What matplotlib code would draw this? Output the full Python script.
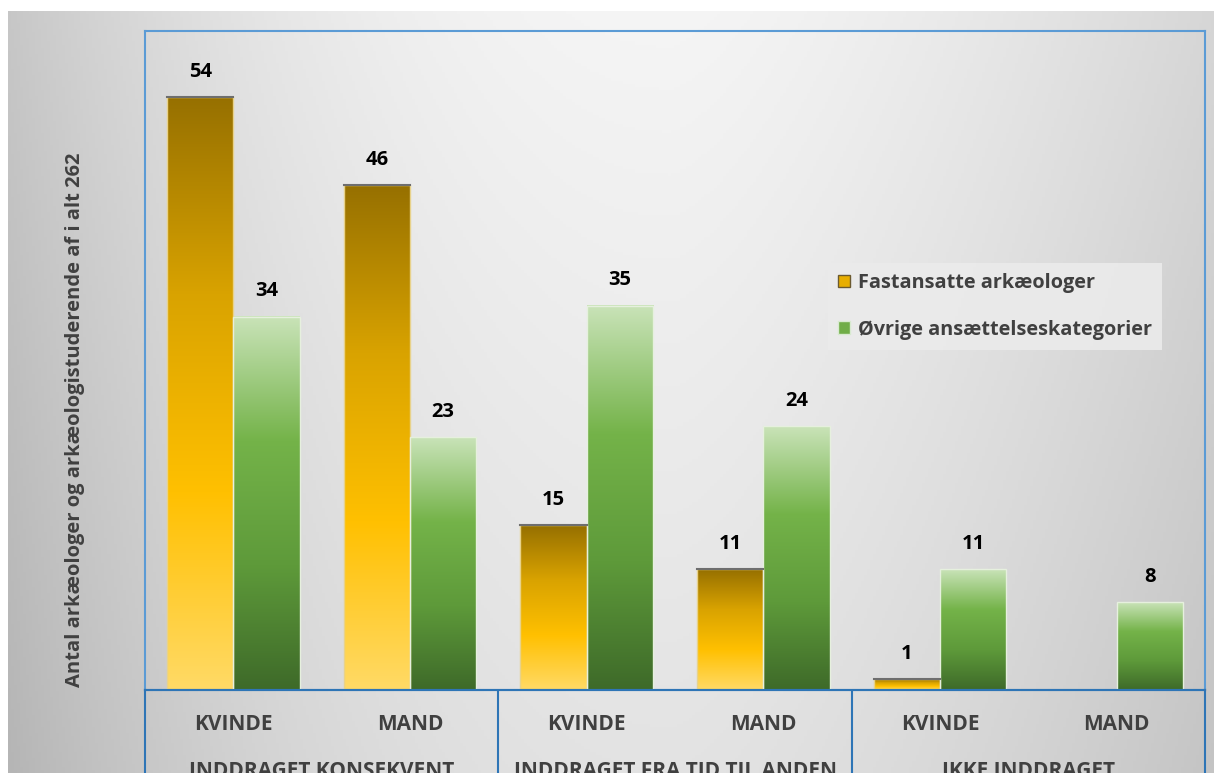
import numpy as np
import matplotlib.pyplot as plt
from matplotlib.colors import LinearSegmentedColormap
from matplotlib.patches import Patch

plt.rcParams['font.family'] = ['Open Sans', 'DejaVu Sans']

# data
groups = ['INDDRAGET KONSEKVENT', 'INDDRAGET FRA TID TIL ANDEN', 'IKKE INDDRAGET']
genders = ['KVINDE', 'MAND', 'KVINDE', 'MAND', 'KVINDE', 'MAND']
fast = [54, 46, 15, 11, 1, 0]
oevrige = [34, 23, 35, 24, 11, 8]
series_names = ['Fastansatte arkæologer', 'Øvrige ansættelseskategorier']
ylabel = 'Antal arkæologer og arkæologistuderende af i alt 262'

W, H = 1214, 773
fig = plt.figure(figsize=(W / 100, H / 100), dpi=100)

# grey gradient background
bg = fig.add_axes([8 / W, 0, 1 - 8 / W, (H - 11) / H], zorder=-5)
xx, yy = np.meshgrid(np.linspace(0, 1, 400), np.linspace(0, 1, 250))
dl = np.clip((0.55 - xx) / 0.55, 0, 1)
dr = np.clip((xx - 0.55) / 0.45, 0, 1)
shade = 0.96 - 0.18 * dl ** 2.2 - 0.12 * dr ** 1.5 - 0.07 * yy
bg.imshow(np.dstack([shade] * 3).clip(0, 1), aspect='auto', extent=[0, 1, 1, 0])
bg.axis('off')

gold = LinearSegmentedColormap.from_list('gold', ['#FFDA66', '#FFC000', '#D9A300', '#967000'])
green = LinearSegmentedColormap.from_list('green', ['#3E6A29', '#5E9A3A', '#74B349', '#C9E3B8'])
grad = np.linspace(0, 1, 256).reshape(-1, 1)

x0, x1 = 145 / W, 1205 / W
yb, yt = (H - 690) / H, (H - 31) / H
ax = fig.add_axes([x0, yb, x1 - x0, yt - yb])
ax.set_facecolor('none')
bw = 0.375
for i in range(len(genders)):
    for v, cmap, off, ec in [(fast[i], gold, -bw, '#e8d28a'), (oevrige[i], green, 0, '#e6f0de')]:
        if v <= 0:
            continue
        ax.imshow(grad, cmap=cmap, origin='lower', aspect='auto',
                  extent=[i + off, i + off + bw, 0, v], zorder=2)
        ax.bar(i + off, v, width=bw, align='edge', facecolor='none', edgecolor=ec, lw=1, zorder=3)
        if cmap is gold:
            ax.plot([i + off, i + off + bw], [v, v], color='#6e6e6e', lw=1.5, zorder=4)
        ax.text(i + off + bw / 2, v + 2.3, str(v), ha='center', va='center',
                fontsize=14.5, fontweight='bold', color='black')
ax.set_xlim(-0.5, 5.5)
ax.set_ylim(0, 60)
ax.set_xticks([])
ax.set_yticks([])
for s in ax.spines.values():
    s.set_color('#5B9BD5')
    s.set_linewidth(1.5)
ax.spines['bottom'].set_color('#2E75B6')

# category table below
tab = fig.add_axes([x0, -0.05, x1 - x0, yb + 0.05])
tab.set_facecolor('none')
tab.set_xlim(-0.5, 5.5)
tab.set_ylim(0, 1)
tab.set_xticks([])
tab.set_yticks([])
for s in tab.spines.values():
    s.set_color('#2E75B6')
    s.set_linewidth(1.5)
for b in [1.5, 3.5]:
    tab.axvline(b, color='#2E75B6', lw=1.5)
for i, g in enumerate(genders):
    tab.text(i, 0.72, g, ha='center', va='center', fontsize=15, fontweight='bold', color='#404040')
for j, g in enumerate(groups):
    tab.text(2 * j + 0.5, 0.33, g, ha='center', va='center', fontsize=15, fontweight='bold', color='#404040')

fig.text(75 / W, 1 - 420 / H, ylabel, rotation=90, ha='center', va='center',
         fontsize=14.5, fontweight='bold', color='#404040')

handles = [Patch(facecolor='#E8AE00', edgecolor='#6b5a30'),
           Patch(facecolor='#70AD47', edgecolor='#d8ead0')]
leg = fig.legend(handles, series_names, loc='upper left', bbox_to_anchor=(828 / W, 1 - 263 / H),
                 borderaxespad=0, frameon=True, fancybox=False, facecolor='#EBEBEB', edgecolor='none',
                 framealpha=0.9, handlelength=0.6, handleheight=0.6, handletextpad=0.4,
                 labelspacing=1.35, borderpad=0.5, prop={'size': 14.3, 'weight': 'bold'})
for t in leg.get_texts():
    t.set_color('#404040')

fig.savefig('out.png', dpi=100)
